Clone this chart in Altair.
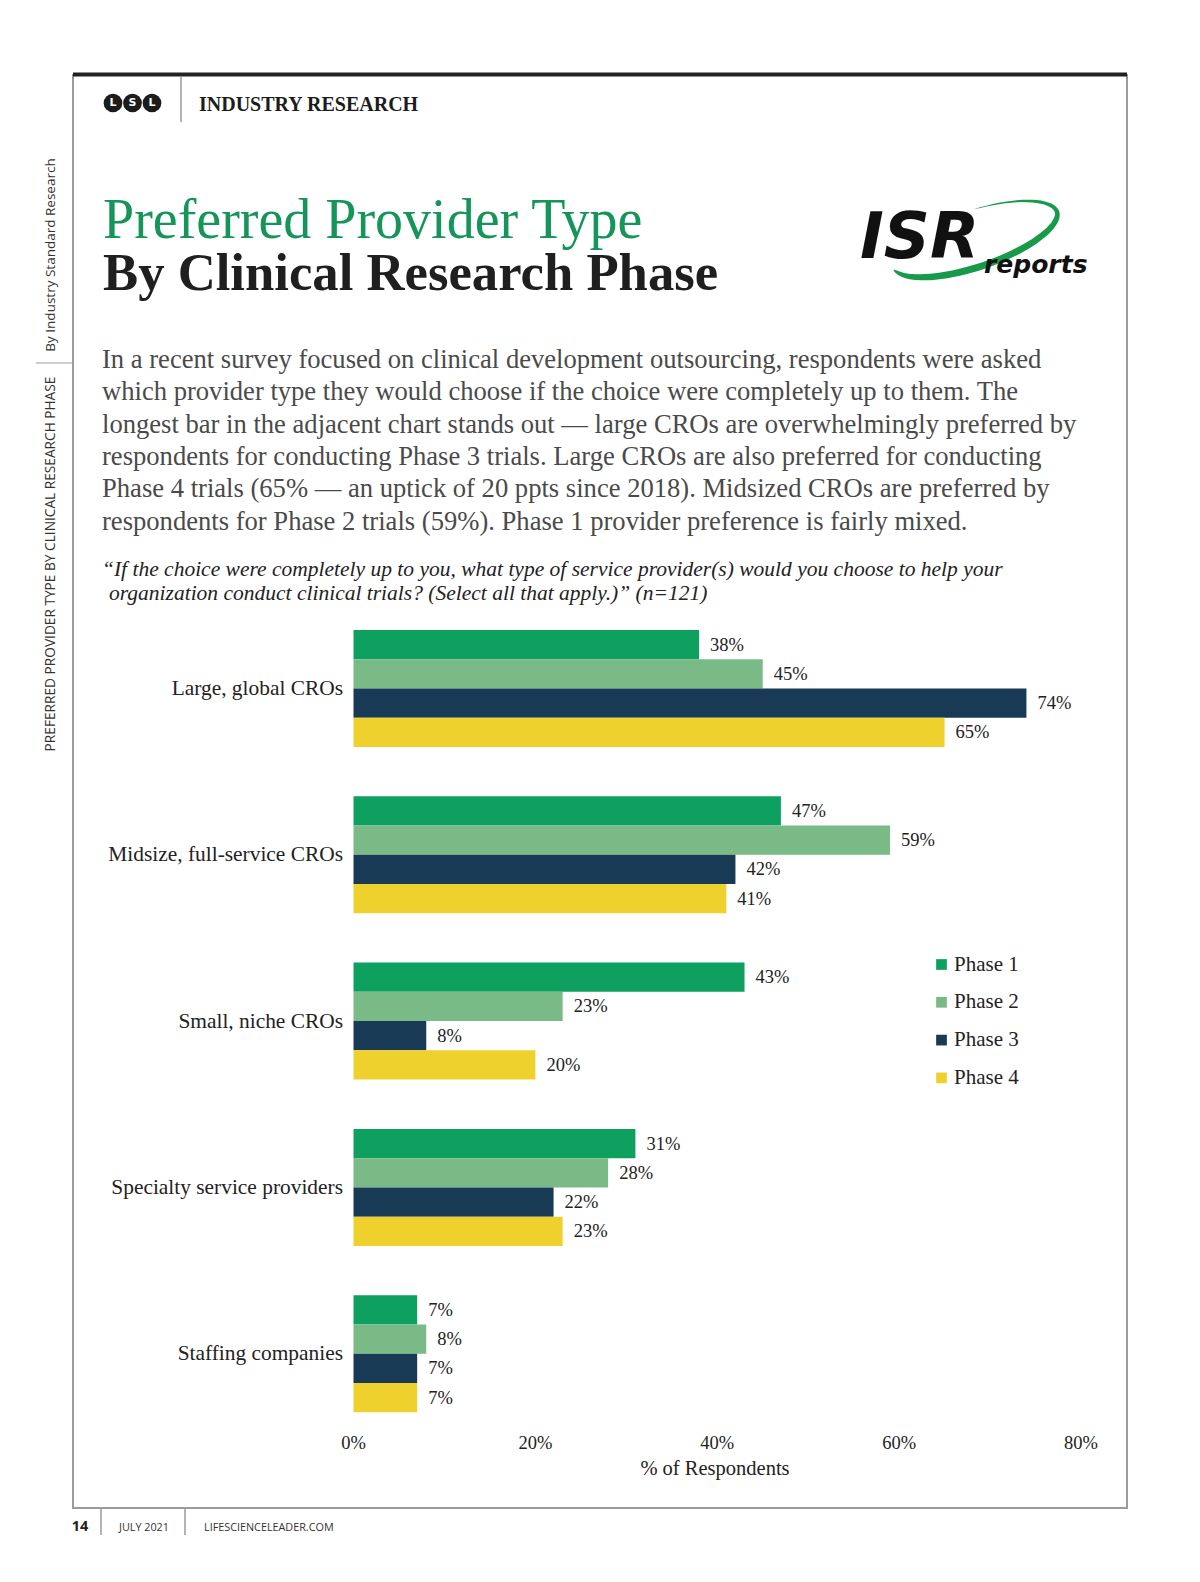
import math
import altair as alt
import pandas as pd

# ---------------- data ----------------
categories = ["Large, global CROs", "Midsize, full-service CROs", "Small, niche CROs",
              "Specialty service providers", "Staffing companies"]
phases = ["Phase 1", "Phase 2", "Phase 3", "Phase 4"]
phase1 = [38, 47, 43, 31, 7]
phase2 = [45, 59, 23, 28, 8]
phase3 = [74, 42, 8, 22, 7]
phase4 = [65, 41, 20, 23, 7]
phase_colors = ["#0ea05e", "#7aba87", "#183a55", "#efd12e"]
x_ticks = [0, 20, 40, 60, 80]
x_tick_labels = ["0%", "20%", "40%", "60%", "80%"]

title_line1 = "Preferred Provider Type"
title_line2 = "By Clinical Research Phase"
body_lines = [
    "In a recent survey focused on clinical development outsourcing, respondents were asked",
    "which provider type they would choose if the choice were completely up to them. The",
    "longest bar in the adjacent chart stands out \u2014 large CROs are overwhelmingly preferred by",
    "respondents for conducting Phase 3 trials. Large CROs are also preferred for conducting",
    "Phase 4 trials (65% \u2014 an uptick of 20 ppts since 2018).  Midsized CROs are preferred by",
    "respondents for Phase 2 trials (59%). Phase 1 provider preference is fairly mixed.",
]
quote_line1 = ("\u201cIf the choice were completely up to you, what type of service provider(s) "
               "would you choose to help your")
quote_line2 = "organization conduct clinical trials? (Select all that apply.)\u201d (n=121)"
axis_title = "% of Respondents"
side_text1 = "By Industry Standard Research"
side_text2 = "PREFERRED PROVIDER TYPE BY CLINICAL RESEARCH PHASE"
footer_page = "14"
footer_date = "JULY 2021"
footer_site = "LIFESCIENCELEADER.COM"

# ---------------- tables ----------------
rows = []
for ci, cat in enumerate(categories):
    for pi, vals in enumerate([phase1, phase2, phase3, phase4]):
        rows.append({"category": cat, "phase": phases[pi], "value": vals[ci],
                     "label": f"{vals[ci]}%"})
df = pd.DataFrame(rows)
ticks_df = pd.DataFrame({"tick": x_ticks, "label": x_tick_labels})
cats_df = pd.DataFrame({"category": categories})
one = pd.DataFrame({"k": [0]})

SERIF = "Liberation Serif"
SANS = "Open Sans"

xscale = alt.Scale(domain=[0, 80], range=[345.5, 1073], nice=False, zero=True)
yscale = alt.Scale(domain=categories, range=[597.35, 1428.85],
                   paddingInner=0.2965, paddingOuter=0.14825)


def text(s, x, y, **kw):
    props = dict(align="left", baseline="alphabetic", font=SERIF, color="#222222")
    props.update(kw)
    return alt.Chart(one).mark_text(text=s, **props).encode(
        x=alt.value(x), y=alt.value(y))


def hrule(x1, x2, y, color="#9b9b9b", w=2):
    return alt.Chart(one).mark_rule(color=color, strokeWidth=w).encode(
        x=alt.value(x1), x2=alt.value(x2), y=alt.value(y))


def vrule(x, y1, y2, color="#9b9b9b", w=1.5):
    return alt.Chart(one).mark_rule(color=color, strokeWidth=w).encode(
        x=alt.value(x), y=alt.value(y1), y2=alt.value(y2))


def swoosh_path():
    a, b, phi = 88.0, 30.0, math.radians(19)
    t0, t1 = math.radians(178), math.radians(-85)
    n = 60
    outer, inner = [], []
    for i in range(n + 1):
        u = i / n
        t = t0 + (t1 - t0) * u
        ex, ey = a * math.cos(t), b * math.sin(t)
        nx, ny = b * math.cos(t), a * math.sin(t)
        nn = math.hypot(nx, ny)
        nx, ny = nx / nn, ny / nn
        w = 10.0 * (math.sin(math.pi * u) ** 0.5) * (1 - 0.75 * u)
        ix, iy = ex - w * nx, ey - w * ny
        for (px, py), dest in (((ex, ey), outer), ((ix, iy), inner)):
            rx = px * math.cos(phi) + py * math.sin(phi)
            ry = -px * math.sin(phi) + py * math.cos(phi)
            dest.append((rx, ry))
    pts = outer + inner[::-1]
    return "M" + " L".join(f"{x:.2f},{y:.2f}" for x, y in pts) + " Z"


layers = []

# frame
layers.append(alt.Chart(one).mark_rect(fillOpacity=0, stroke="#9b9b9b", strokeWidth=2).encode(
    x=alt.value(65), x2=alt.value(1119), y=alt.value(67), y2=alt.value(1500)))
layers.append(hrule(65, 1119, 66.5, color="#222222", w=4))
layers.append(hrule(28, 65, 355, w=1.2))
layers.append(vrule(173, 69, 114))
layers.append(vrule(93, 1499, 1527))
layers.append(vrule(177, 1499, 1527))

# LSL logo
for cx, letter in zip([105, 124.5, 144], ["L", "S", "L"]):
    layers.append(alt.Chart(one).mark_circle(size=350, color="#1c1c1c", opacity=1).encode(
        x=alt.value(cx), y=alt.value(95)))
    layers.append(text(letter, cx, 95, align="center", baseline="middle", font="DejaVu Sans",
                       fontWeight="bold", fontSize=11, color="white"))
layers.append(text("INDUSTRY RESEARCH", 191, 102.7, fontWeight="bold", fontSize=20,
                   color="#1c1c1c"))

# titles
layers.append(text(title_line1, 95, 230, fontSize=56, color="#15955a"))
layers.append(text(title_line2, 95, 282, fontSize=52.7, fontWeight="bold", color="#1f1f1f"))

# ISR logo
layers.append(alt.Chart(one).mark_point(shape=swoosh_path(), size=4, filled=True,
                                        color="#179a4a", opacity=1, strokeWidth=0).encode(
    x=alt.value(968), y=alt.value(232)))
layers.append(text("ISR", 852, 250, font="DejaVu Sans", fontWeight="bold", fontStyle="italic",
                   fontSize=64, color="#111111"))
layers.append(text("reports", 976, 265, font="DejaVu Sans", fontWeight="bold",
                   fontStyle="italic", fontSize=25, color="#111111"))

# body and quote
layers.append(alt.Chart(one).mark_text(text=body_lines, lineHeight=32.3, align="left",
                                       baseline="alphabetic", font=SERIF, fontSize=26.6,
                                       color="#4a4a4a").encode(
    x=alt.value(94), y=alt.value(360)))
layers.append(text(quote_line1, 94, 568, fontSize=21.5, fontStyle="italic"))
layers.append(text(quote_line2, 101, 592, fontSize=21.5, fontStyle="italic"))

# bars
bars = alt.Chart(df).mark_bar().encode(
    x=alt.X("value:Q", scale=xscale, axis=None),
    y=alt.Y("category:N", scale=yscale, sort=categories, axis=None),
    yOffset=alt.YOffset("phase:N", sort=phases, scale=alt.Scale(paddingInner=0, paddingOuter=0)),
    color=alt.Color("phase:N", sort=phases,
                    scale=alt.Scale(domain=phases, range=phase_colors),
                    legend=alt.Legend(title=None, orient="none", legendX=923, legendY=946,
                                      symbolType="square", symbolSize=115,
                                      symbolStrokeWidth=0, labelFont=SERIF,
                                      labelFontSize=21, labelColor="#222222",
                                      labelOffset=2, rowPadding=15.8, padding=0)),
)
layers.append(bars)

value_labels = alt.Chart(df).mark_text(align="left", baseline="middle", dx=11, font=SERIF,
                                       fontSize=18.5, color="#222222").encode(
    x=alt.X("value:Q", scale=xscale, axis=None),
    y=alt.Y("category:N", scale=yscale, sort=categories, axis=None),
    yOffset=alt.YOffset("phase:N", sort=phases, scale=alt.Scale(paddingInner=0, paddingOuter=0)),
    text="label:N",
)
layers.append(value_labels)

cat_labels = alt.Chart(cats_df).mark_text(align="right", baseline="alphabetic", dy=6.5,
                                          font=SERIF, fontSize=21.4, color="#222222").encode(
    x=alt.value(335),
    y=alt.Y("category:N", scale=yscale, sort=categories, axis=None),
    text="category:N",
)
layers.append(cat_labels)

tick_labels = alt.Chart(ticks_df).mark_text(align="center", baseline="alphabetic", font=SERIF,
                                            fontSize=18.5, color="#222222").encode(
    x=alt.X("tick:Q", scale=xscale, axis=None),
    y=alt.value(1441),
    text="label:N",
)
layers.append(tick_labels)
layers.append(text(axis_title, 707, 1467, align="center", fontSize=20.5))

# side texts
layers.append(text(side_text1, 42.5, 247, align="center", baseline="middle", angle=270,
                   font=SANS, fontSize=13.5, color="#333333"))
layers.append(text(side_text2, 42.5, 556, align="center", baseline="middle", angle=270,
                   font=SANS, fontSize=13.7, color="#333333"))

# footer
layers.append(text(footer_page, 63.7, 1523, font=SANS, fontWeight="bold", fontSize=14.5,
                   color="#222222"))
layers.append(text(footer_date, 111, 1523, font=SANS, fontSize=10.8, color="#333333"))
layers.append(text(footer_site, 196, 1523, font=SANS, fontSize=10.8, color="#333333"))

chart = alt.layer(*layers).properties(
    width=1184, height=1566, autosize="none", padding=0, background="white"
).configure_view(stroke=None)

chart.save("out.html", embed_options={"renderer": "svg", "actions": False})
